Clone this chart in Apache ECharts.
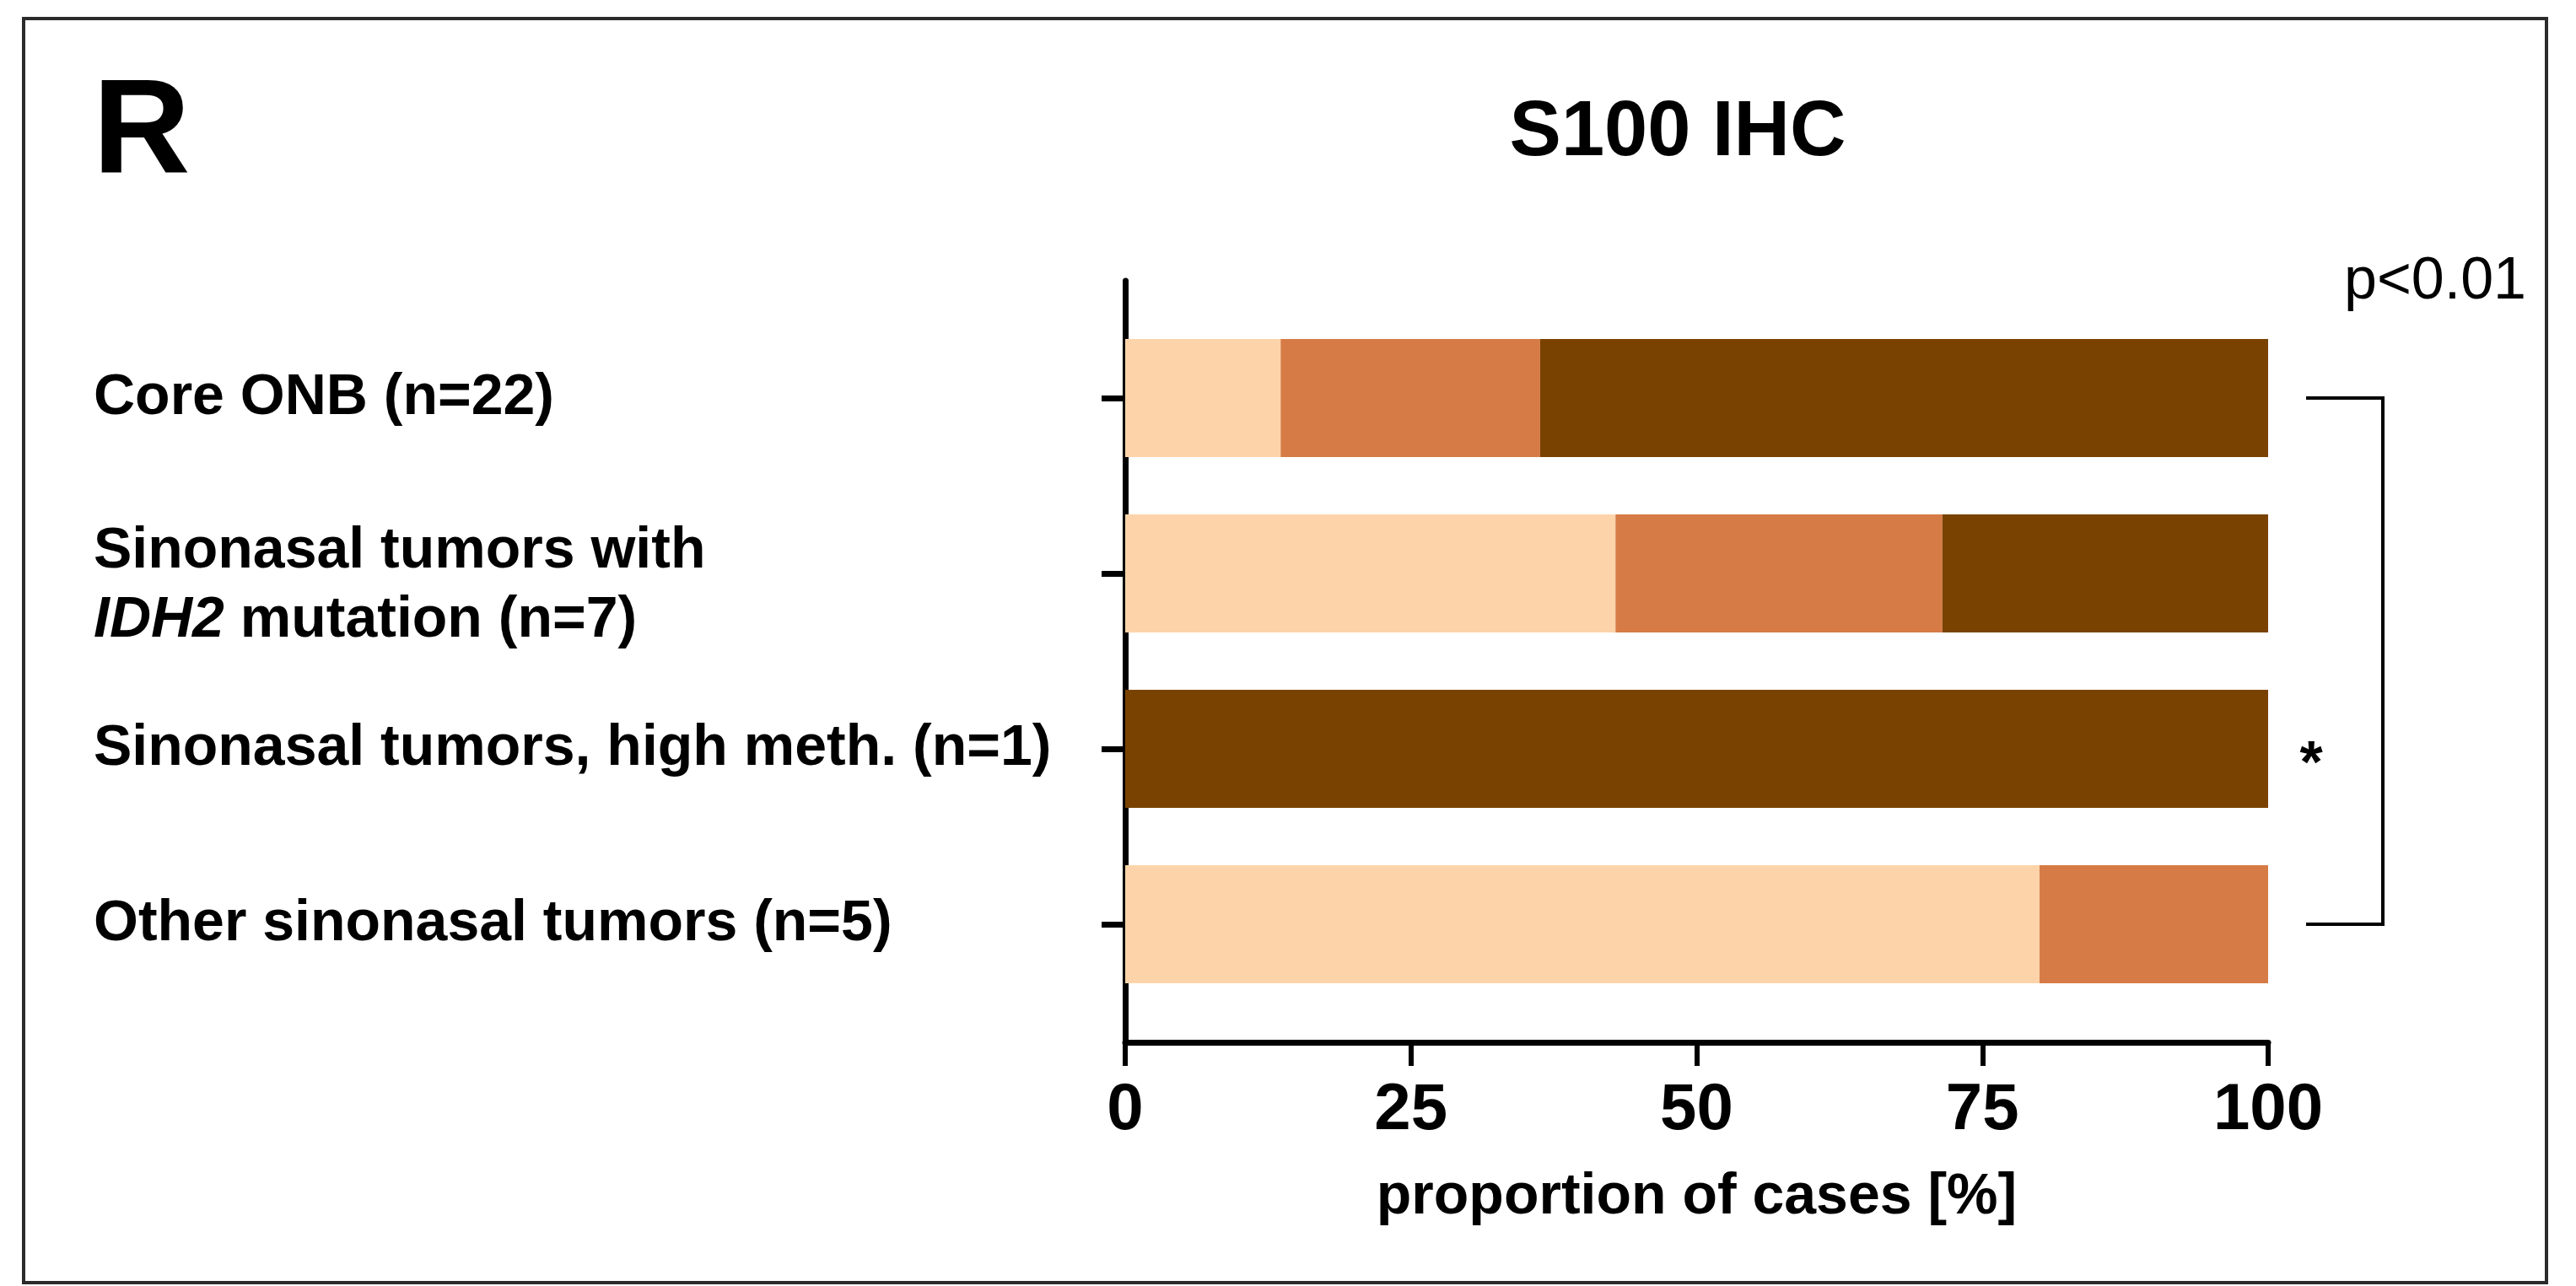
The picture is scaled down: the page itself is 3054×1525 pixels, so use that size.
<!DOCTYPE html>
<html>
<head>
<meta charset="utf-8">
<script src="https://cdn.jsdelivr.net/npm/echarts@6/dist/echarts.min.js"></script>
<style>
  html, body { margin: 0; padding: 0; background: #fff; }
  #chart { width: 3054px; height: 1525px; }
</style>
</head>
<body>
<div id="chart"></div>
<script>
// groups, top to bottom
const categories = [
  'Core ONB (n=22)',
  'Sinonasal tumors with\n{i|IDH2} mutation (n=7)',
  'Sinonasal tumors, high meth. (n=1)',
  'Other sinonasal tumors (n=5)'
];
// proportion of cases [%] per S100 staining level
const lowValues = [13.6, 42.9, 0, 80];
const midValues = [22.7, 28.6, 0, 20];
const highValues = [63.7, 28.5, 100, 0];
const seriesNames = ['low', 'intermediate', 'high'];
const xTicks = [0, 25, 50, 75, 100];

const FONT = "'Liberation Sans', Arial, sans-serif";
const colors = ['#FDD4AA', '#D67B45', '#7A4200'];

const chart = echarts.init(document.getElementById('chart'));

const labelStyle = {
  align: 'left',
  fontFamily: FONT,
  fontSize: 68,
  fontWeight: 'bold',
  color: '#000',
  lineHeight: 82
};

const option = {
  backgroundColor: '#ffffff',
  animation: false,
  title: {
    text: 'S100 IHC',
    left: 1984,
    top: 108,
    textAlign: 'center',
    textStyle: { fontFamily: FONT, fontSize: 92, fontWeight: 'bold', color: '#000' }
  },
  grid: [
    // bars
    { left: 1334, width: 1355, top: 368, height: 832, containLabel: false, outerBoundsMode: 'none' },
    // axis frame
    { left: 1334, width: 1355, top: 333, height: 903, containLabel: false, outerBoundsMode: 'none' }
  ],
  xAxis: [
    { gridIndex: 0, type: 'value', min: 0, max: 100, show: false },
    {
      gridIndex: 1,
      type: 'value',
      min: xTicks[0],
      max: xTicks[xTicks.length - 1],
      interval: xTicks[1] - xTicks[0],
      name: 'proportion of cases [%]',
      nameLocation: 'middle',
      nameGap: 150,
      nameTextStyle: { fontFamily: FONT, fontSize: 68, fontWeight: 'bold', color: '#000' },
      axisLine: { show: true, lineStyle: { color: '#000', width: 7 } },
      axisTick: { show: true, length: 28, lineStyle: { color: '#000', width: 6 } },
      axisLabel: { margin: 42, fontFamily: FONT, fontSize: 78, fontWeight: 'bold', color: '#000' },
      splitLine: { show: false }
    }
  ],
  yAxis: [
    {
      gridIndex: 0,
      type: 'category',
      inverse: true,
      data: categories.map((c, i) => i === 1
        ? { value: c, textStyle: Object.assign({}, labelStyle, { padding: [30, 0, 0, 0] }) }
        : c),
      axisLine: { show: false },
      axisTick: { show: true, alignWithLabel: true, length: 28, lineStyle: { color: '#000', width: 7 } },
      axisLabel: Object.assign({
        margin: 1223,
        rich: {
          i: { fontFamily: FONT, fontSize: 68, fontWeight: 'bold', fontStyle: 'italic', color: '#000', lineHeight: 82 }
        }
      }, labelStyle)
    },
    {
      gridIndex: 1,
      type: 'value',
      min: 0,
      max: 1,
      axisLine: { show: true, lineStyle: { color: '#000', width: 7 } },
      axisTick: { show: false },
      axisLabel: { show: false },
      splitLine: { show: false }
    }
  ],
  series: [lowValues, midValues, highValues].map((vals, k) => ({
    name: seriesNames[k],
    type: 'bar',
    stack: 'total',
    xAxisIndex: 0,
    yAxisIndex: 0,
    barWidth: 140,
    itemStyle: { color: colors[k] },
    data: vals
  })),
  graphic: [
    {
      type: 'rect',
      shape: { x: 28, y: 22, width: 2991, height: 1499 },
      style: { fill: 'none', stroke: '#2b2b2b', lineWidth: 4 }
    },
    {
      type: 'text',
      x: 110,
      y: 81,
      style: { text: 'R', fontFamily: FONT, fontSize: 160, fontWeight: 'bold', fill: '#000' }
    }
  ]
};

chart.setOption(option);

// significance bracket, placed from the axes
const xEnd = chart.convertToPixel({ xAxisIndex: 0 }, 100);
const yFirst = chart.convertToPixel({ yAxisIndex: 0 }, 0);
const yHigh = chart.convertToPixel({ yAxisIndex: 0 }, 2);
const yLast = chart.convertToPixel({ yAxisIndex: 0 }, 3);

chart.setOption({
  graphic: option.graphic.concat([
    {
      type: 'polyline',
      shape: { points: [[xEnd + 45, yFirst], [xEnd + 136, yFirst], [xEnd + 136, yLast], [xEnd + 45, yLast]] },
      style: { fill: 'none', stroke: '#000', lineWidth: 4 }
    },
    {
      type: 'text',
      x: xEnd + 51,
      y: yHigh + 21,
      style: { text: '*', fontFamily: FONT, fontSize: 70, fontWeight: 'bold', fill: '#000', align: 'center', verticalAlign: 'middle' }
    },
    {
      type: 'text',
      x: xEnd + 306,
      y: 335,
      style: { text: 'p<0.01', fontFamily: FONT, fontSize: 70, fill: '#000', align: 'right', verticalAlign: 'middle' }
    }
  ])
});

window.addEventListener('resize', () => chart.resize());
</script>
</body>
</html>
